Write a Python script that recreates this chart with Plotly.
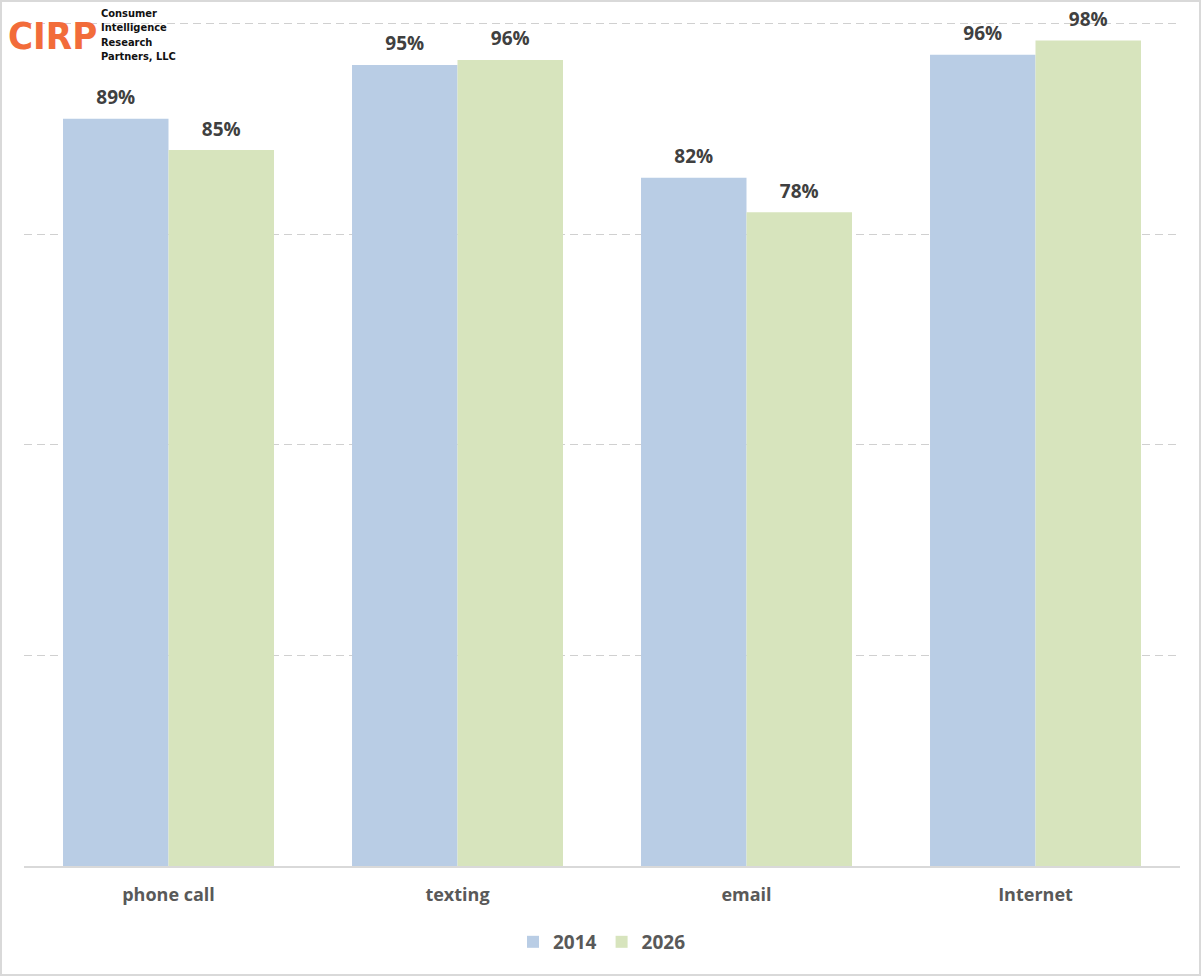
import plotly.graph_objects as go

# usage share by activity
categories = ["phone call", "texting", "email", "Internet"]
years = ["2014", "2026"]
values_2014 = [0.887, 0.951, 0.817, 0.963]
values_2026 = [0.850, 0.957, 0.776, 0.980]
colors = ["#b9cde5", "#d7e4bd"]
grid_vals = [0.25, 0.5, 0.75, 1.0]

FONT = "Open Sans"

fig = go.Figure()
for year, vals, col in zip(years, [values_2014, values_2026], colors):
    fig.add_trace(go.Bar(
        x=categories, y=vals, name=year, marker_color=col,
        marker_line_width=0, offsetgroup=year, hoverinfo="skip",
    ))
# value labels as text points, grouped like the bars
for year, vals in zip(years, [values_2014, values_2026]):
    fig.add_trace(go.Scatter(
        x=categories, y=vals, mode="markers+text", offsetgroup=year,
        text=["<b>%d%%</b>" % round(v * 100) for v in vals],
        textposition="top center",
        textfont=dict(family=FONT, size=19, color="#404040"),
        marker=dict(size=14, opacity=0), showlegend=False,
        hoverinfo="skip", cliponaxis=False,
    ))

fig.update_layout(
    width=1202, height=977,
    margin=dict(l=24, r=22, t=22, b=111),
    paper_bgcolor="white", plot_bgcolor="white",
    barmode="group", bargap=0.27, bargroupgap=0,
    scattermode="group", scattergap=0.27,
    font=dict(family=FONT, color="#595959"),
    showlegend=True,
    legend=dict(orientation="h", x=0.5, xanchor="center", y=-0.09, yanchor="middle",
                font=dict(family=FONT, size=19, color="#595959", weight="bold"),
                itemwidth=30, traceorder="normal"),
)
fig.update_xaxes(
    showgrid=False, showline=True, linecolor="#d9d9d9", linewidth=1.5,
    ticks="", tickfont=dict(family=FONT, size=18, color="#595959", weight="bold"),
    ticklabelstandoff=12,
)
fig.update_yaxes(
    range=[0, 1.002], tickvals=grid_vals, showticklabels=False,
    showgrid=True, gridcolor="#d0d0d0", griddash="8px,5px", gridwidth=1.3,
    zeroline=False, showline=False,
)

# outer border
fig.add_shape(type="rect", xref="paper", yref="paper",
              x0=-0.0199, x1=1.0173, y0=-0.1291, y1=1.0249,
              line=dict(color="#d9d9d9", width=2), fillcolor="rgba(0,0,0,0)")

# logo
fig.add_annotation(xref="paper", yref="paper", x=-0.0156, y=0.983, xanchor="left", yanchor="middle",
                   text="<b>CIRP</b>", showarrow=False,
                   font=dict(family="DejaVu Sans Condensed", size=38, color="#f26c3a"))
fig.add_annotation(xref="paper", yref="paper", x=0.065, y=1.02, xanchor="left", yanchor="top",
                   text="<b>Consumer<br>Intelligence<br>Research<br>Partners, LLC</b>",
                   showarrow=False, align="left",
                   font=dict(family="DejaVu Sans Condensed", size=11, color="#111111"))

fig.write_html("out.html", config={"displayModeBar": False},
               post_script="document.body.style.margin='0';")
